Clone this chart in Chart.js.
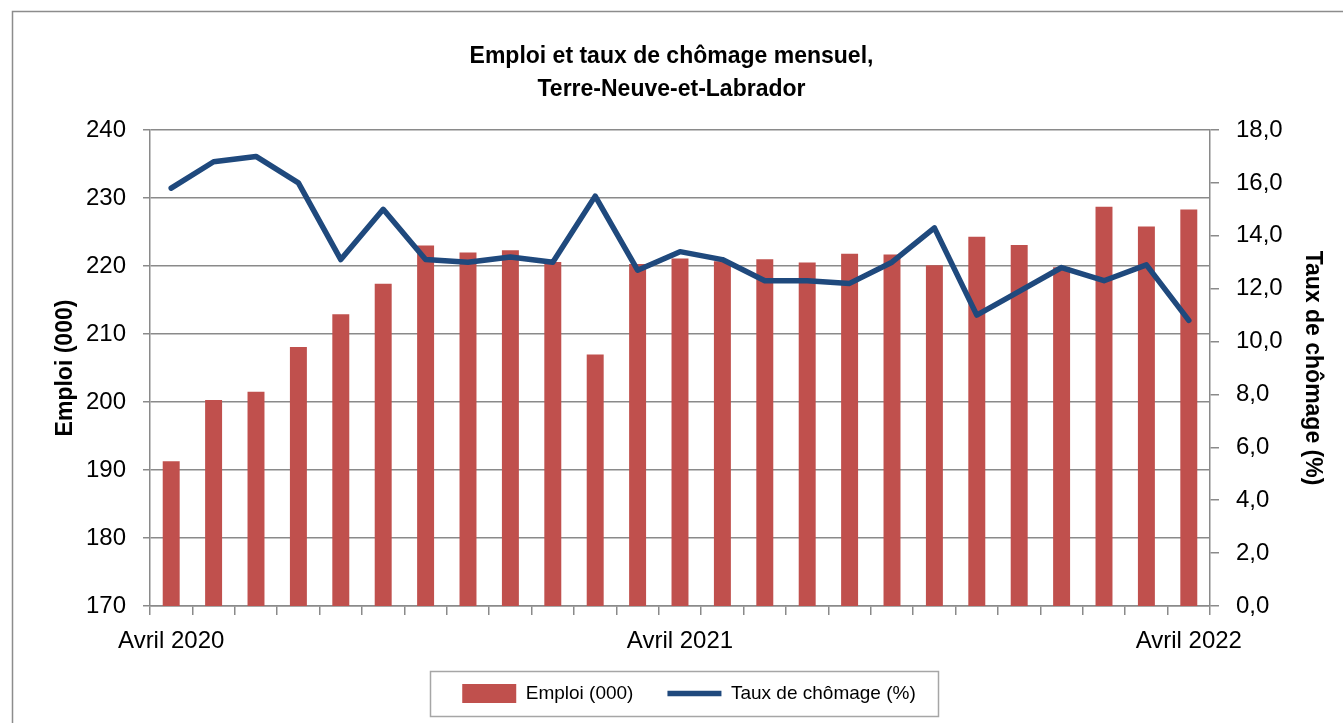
<!DOCTYPE html>
<html>
<head>
<meta charset="utf-8">
<script src="https://cdn.jsdelivr.net/npm/chart.js@4"></script>
<style>
  html, body { margin: 0; padding: 0; background: #fff; overflow: hidden; }
  #wrap { width: 1343px; height: 723px; position: relative; }
</style>
</head>
<body>
<div id="wrap"><canvas id="c" width="1343" height="723"></canvas></div>
<script>
const months = ['Avril 2020','Mai 2020','Juin 2020','Juillet 2020','Août 2020','Septembre 2020','Octobre 2020','Novembre 2020','Décembre 2020','Janvier 2021','Février 2021','Mars 2021','Avril 2021','Mai 2021','Juin 2021','Juillet 2021','Août 2021','Septembre 2021','Octobre 2021','Novembre 2021','Décembre 2021','Janvier 2022','Février 2022','Mars 2022','Avril 2022'];
const emploi = [191.3, 200.3, 201.5, 208.1, 212.9, 217.4, 223.0, 222.0, 222.3, 220.6, 207.0, 220.3, 221.1, 220.7, 221.0, 220.5, 221.8, 221.7, 220.1, 224.3, 223.1, 219.8, 228.7, 225.8, 228.3];
const chomage = [15.8, 16.8, 17.0, 16.0, 13.1, 15.0, 13.1, 13.0, 13.2, 13.0, 15.5, 12.7, 13.4, 13.1, 12.3, 12.3, 12.2, 13.0, 14.3, 11.0, 11.9, 12.8, 12.3, 12.9, 10.8];
const shownLabels = ['Avril 2020', 'Avril 2021', 'Avril 2022'];
const leftTicks = [170, 240, 10];
const rightTicks = [0, 18, 2];

const FONT = "'Liberation Sans', Arial, sans-serif";
const GRID = '#8a8a8a';
const LEGEND_SHIFT = 9;

const framePlugin = {
  id: 'frame',
  beforeDraw(chart) {
    const ctx = chart.ctx;
    ctx.save();
    ctx.fillStyle = '#fff';
    ctx.fillRect(0, 0, chart.width, chart.height);
    ctx.strokeStyle = '#8c8c8c';
    ctx.lineWidth = 1.5;
    ctx.strokeRect(12.5, 11.5, chart.width + 20, chart.height + 20);
    ctx.restore();
  }
};

const legendBoxPlugin = {
  id: 'legendBox',
  afterLayout(chart) {
    const lg = chart.legend;
    if (!lg) return;
    lg.left += LEGEND_SHIFT;
    lg.right += LEGEND_SHIFT;
    (lg.legendHitBoxes || []).forEach(h => { h.left += LEGEND_SHIFT; });
  },
  afterDraw(chart) {
    const lg = chart.legend;
    if (!lg || !lg.legendHitBoxes || !lg.legendHitBoxes.length) return;
    let l = Infinity, r = -Infinity, t = Infinity, b = -Infinity;
    lg.legendHitBoxes.forEach(h => {
      l = Math.min(l, h.left); r = Math.max(r, h.left + h.width);
      t = Math.min(t, h.top); b = Math.max(b, h.top + h.height);
    });
    const ctx = chart.ctx;
    ctx.save();
    ctx.strokeStyle = '#a6a6a6';
    ctx.lineWidth = 1.5;
    const x0 = Math.round(l - 32) + 0.5, x1 = Math.round(r + 22) + 0.5;
    const y0 = Math.round(t - 13) + 0.5, y1 = Math.round(b + 13) + 0.5;
    ctx.strokeRect(x0, y0, x1 - x0, y1 - y0);
    ctx.restore();
  }
};

new Chart(document.getElementById('c'), {
  data: {
    labels: months,
    datasets: [
      {
        type: 'bar',
        label: 'Emploi (000)',
        data: emploi,
        backgroundColor: '#C0504D',
        borderWidth: 0,
        yAxisID: 'y',
        order: 1,
        categoryPercentage: 1.0,
        barPercentage: 0.4,
        pointStyle: 'rect'
      },
      {
        type: 'line',
        label: 'Taux de chômage (%)',
        data: chomage,
        borderColor: '#1F497D',
        backgroundColor: '#1F497D',
        borderWidth: 5.5,
        borderJoinStyle: 'round',
        borderCapStyle: 'round',
        pointRadius: 0,
        tension: 0,
        yAxisID: 'y1',
        order: 0,
        pointStyle: 'line'
      }
    ]
  },
  options: {
    responsive: false,
    animation: false,
    devicePixelRatio: 1,
    layout: { padding: { top: 40, left: 0, right: 0, bottom: 10 } },
    plugins: {
      title: {
        display: true,
        text: ['Emploi et taux de chômage mensuel,', 'Terre-Neuve-et-Labrador'],
        color: '#000',
        font: { family: FONT, size: 23, weight: 'bold', lineHeight: 1.435 },
        padding: { top: 0, bottom: 24 }
      },
      legend: {
        display: true,
        position: 'bottom',
        fullSize: false,
        labels: {
          usePointStyle: true,
          pointStyleWidth: 54,
          boxHeight: 19,
          color: '#000',
          font: { family: FONT, size: 19 },
          padding: 34,
          sort: (a, b) => a.datasetIndex - b.datasetIndex
        }
      },
      tooltip: { enabled: false }
    },
    scales: {
      x: {
        offset: true,
        grid: { display: true, offset: true, drawOnChartArea: false, drawTicks: true, tickLength: 9, color: GRID, lineWidth: 1.5 },
        border: { display: true, color: GRID, width: 1.5 },
        ticks: {
          autoSkip: false, maxRotation: 0, minRotation: 0, padding: 12, color: '#000',
          font: { family: FONT, size: 24 },
          callback: function(v, i) { const l = months[i]; return shownLabels.includes(l) ? l : ''; }
        },
        afterFit: s => { s.height = 44; }
      },
      y: {
        position: 'left',
        min: leftTicks[0], max: leftTicks[1],
        ticks: { stepSize: leftTicks[2], padding: 17, color: '#000', font: { family: FONT, size: 24 } },
        grid: { color: GRID, lineWidth: 1.5, tickLength: 7 },
        border: { display: true, color: GRID, width: 1.5 },
        title: { display: true, text: 'Emploi (000)', color: '#000', font: { family: FONT, size: 23, weight: 'bold' }, padding: { top: 52, bottom: 0 } },
        afterFit: s => { s.width = 150; }
      },
      y1: {
        position: 'right',
        min: rightTicks[0], max: rightTicks[1],
        ticks: { stepSize: rightTicks[2], padding: 17, color: '#000', font: { family: FONT, size: 24 },
          callback: v => v.toFixed(1).replace('.', ',') },
        grid: { drawOnChartArea: false, color: GRID, lineWidth: 1.5, tickLength: 9 },
        border: { display: true, color: GRID, width: 1.5 },
        title: { display: true, text: 'Taux de chômage (%)', color: '#000', font: { family: FONT, size: 23, weight: 'bold' }, padding: { top: 17, bottom: 0 } },
        afterFit: s => { s.width = 133; }
      }
    }
  },
  plugins: [framePlugin, legendBoxPlugin]
});
</script>
</body>
</html>
